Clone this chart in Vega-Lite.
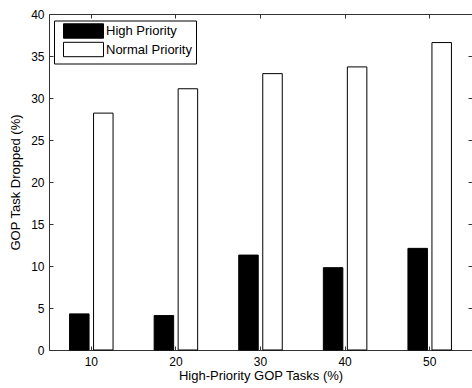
{
  "$schema": "https://vega.github.io/schema/vega-lite/v6.json",
  "autosize": {"type": "none"},
  "padding": {"left": 49, "top": 14, "right": 0, "bottom": 38},
  "width": 423,
  "height": 336,
  "background": "white",
  "config": {
    "font": "Liberation Sans",
    "view": {"stroke": null},
    "axis": {
      "labelFont": "Liberation Sans",
      "titleFont": "Liberation Sans",
      "labelFontSize": 12,
      "titleFontSize": 13,
      "titleFontWeight": "normal",
      "labelColor": "#000",
      "titleColor": "#000",
      "domainColor": "#333",
      "tickColor": "#333",
      "grid": false
    }
  },
  "data": {
    "values": [
      {"tasks": "10", "series": "High Priority", "dropped": 4.3},
      {"tasks": "10", "series": "Normal Priority", "dropped": 28.2},
      {"tasks": "20", "series": "High Priority", "dropped": 4.1},
      {"tasks": "20", "series": "Normal Priority", "dropped": 31.1},
      {"tasks": "30", "series": "High Priority", "dropped": 11.3},
      {"tasks": "30", "series": "Normal Priority", "dropped": 32.9},
      {"tasks": "40", "series": "High Priority", "dropped": 9.8},
      {"tasks": "40", "series": "Normal Priority", "dropped": 33.7},
      {"tasks": "50", "series": "High Priority", "dropped": 12.1},
      {"tasks": "50", "series": "Normal Priority", "dropped": 36.6}
    ]
  },
  "layer": [
    {
      "mark": {"type": "bar", "stroke": "#000", "strokeWidth": 1},
      "encoding": {
        "x": {
          "field": "tasks", "type": "ordinal",
          "scale": {"paddingInner": 0, "paddingOuter": 0},
          "axis": {"title": "High-Priority GOP Tasks (%)", "labelAngle": 0, "tickSize": -4, "labelPadding": 10, "titlePadding": 2}
        },
        "xOffset": {
          "field": "series", "type": "nominal",
          "scale": {"paddingInner": 0.1875, "paddingOuter": 0.856}
        },
        "y": {
          "field": "dropped", "type": "quantitative",
          "scale": {"domain": [0, 40], "nice": false},
          "axis": {"title": "GOP Task Dropped (%)", "values": [0, 5, 10, 15, 20, 25, 30, 35, 40], "tickSize": -4, "labelPadding": 9, "titlePadding": 8}
        },
        "fill": {
          "field": "series", "type": "nominal",
          "scale": {"domain": ["High Priority", "Normal Priority"], "range": ["#000", "#fff"]},
          "legend": {
            "title": null,
            "orient": "none",
            "legendX": 5,
            "legendY": 6.5,
            "fillColor": "#fff",
            "strokeColor": "#000",
            "padding": 4,
            "symbolType": "M-20,-7.2L20,-7.2L20,7.2L-20,7.2Z",
            "symbolSize": 4,
            "symbolOffset": 19,
            "symbolStrokeColor": "#000",
            "symbolStrokeWidth": 1,
            "labelFont": "Liberation Sans",
            "labelFontSize": 13,
            "labelColor": "#000",
            "rowPadding": -0.5,
            "labelOffset": 16
          }
        }
      }
    },
    {
      "mark": {"type": "bar", "opacity": 0},
      "encoding": {
        "x": {
          "field": "tasks", "type": "ordinal",
          "axis": {"orient": "top", "title": null, "labels": false, "tickSize": -4}
        },
        "xOffset": {"field": "series", "type": "nominal"},
        "y": {
          "field": "dropped", "type": "quantitative",
          "axis": {"orient": "right", "title": null, "labels": false, "values": [0, 5, 10, 15, 20, 25, 30, 35, 40], "tickSize": -4}
        }
      }
    }
  ],
  "resolve": {"axis": {"x": "independent", "y": "independent"}}
}
